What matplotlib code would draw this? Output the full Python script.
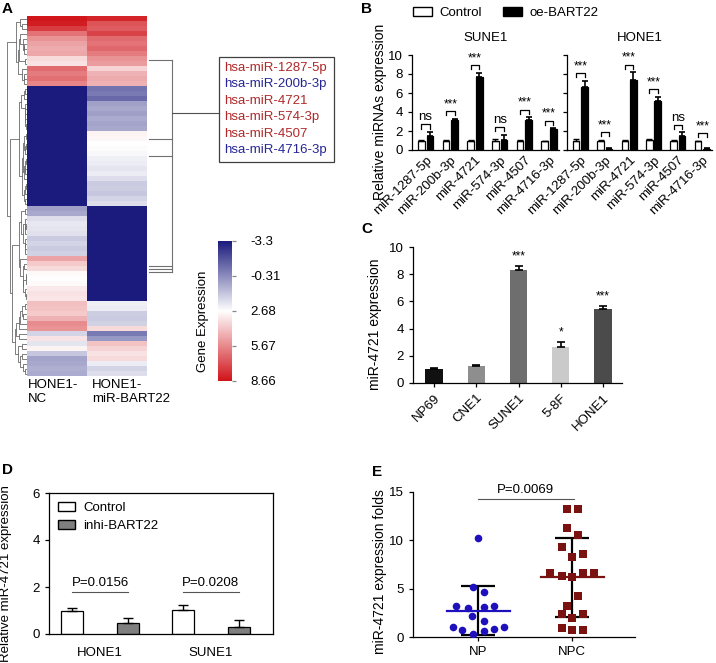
import numpy as np
import matplotlib.pyplot as plt
from matplotlib.colors import LinearSegmentedColormap
from matplotlib.patches import Patch

plt.rcParams['font.family'] = ['Liberation Sans', 'DejaVu Sans']
plt.rcParams['font.size'] = 9.5
plt.rcParams['axes.linewidth'] = 0.9
plt.rcParams['xtick.major.width'] = 0.9
plt.rcParams['ytick.major.width'] = 0.9
plt.rcParams['xtick.major.size'] = 3
plt.rcParams['ytick.major.size'] = 3

W, H = 716, 663


def box(l, t, r, b):
    # pixel box -> figure fraction
    return [l / W, 1 - b / H, (r - l) / W, (b - t) / H]


# ===== A: heatmap data =====
hm_nc = [8.6, 8.4, 7.6, 6.2, 5.4, 5.0, 4.8, 4.9, 3.6, 3.4, 6.4, 6.0, 6.3, 5.8,
         -3.3, -3.3, -3.3, -3.3, -3.3, -3.3, -3.3, -3.3, -3.3, -3.3, -3.3, -3.3,
         -3.3, -3.3, -3.3, -3.3, -3.3, -3.3, -3.3, -3.3, -3.3, -3.3, -3.3, -3.3,
         0.2, 0.4, 1.8, 2.1, 2.0, 1.9, 1.3, 1.6, 1.3, 1.5, 5.0, 4.0, 3.6, 2.8,
         2.7, 2.8, 3.2, 3.4, 3.3, 4.3, 4.2, 4.0, 4.6, 5.6, 5.4, 1.6, 3.4, 2.0,
         3.0, 1.2, 0.3, 0.4, 0.6, 0.5]
hm_bart = [8.2, 7.0, 6.8, 7.4, 6.4, 6.2, 6.5, 6.0, 5.4, 5.2, 3.8, 4.6, 4.8, 4.6,
           -1.0, -0.8, -1.2, 0.2, 0.4, 0.2, 0.5, 0.3, 0.4, 3.0, 2.9, 2.7, 2.6,
           2.5, 2.3, 2.2, 2.0, 2.2, 1.8, 1.3, 1.4, 1.2, 1.6, 1.8,
           -3.3, -3.3, -3.3, -3.3, -3.3, -3.3, -3.3, -3.3, -3.3, -3.3, -3.3,
           -3.3, -3.3, -3.3, -3.3, -3.3, -3.3, -3.3, -3.3,
           2.3, 2.2, 1.4, 1.3, 1.5, 3.6, -0.8, 0.0, 4.2, 3.8, 3.4, 3.6, 2.2,
           1.6, 1.8]
hm_cols = ['HONE1-\nNC', 'HONE1-\nmiR-BART22']
mir_names = ['hsa-miR-1287-5p', 'hsa-miR-200b-3p', 'hsa-miR-4721',
             'hsa-miR-574-3p', 'hsa-miR-4507', 'hsa-miR-4716-3p']
mir_up = [True, False, True, True, True, False]
mir_rows = [8.2, 24.0, 27.4, 49.4, 50.0, 50.6]
cbar_ticks = [-3.3, -0.31, 2.68, 5.67, 8.66]

# ===== B =====
b_mirs = ['miR-1287-5p', 'miR-200b-3p', 'miR-4721', 'miR-574-3p',
          'miR-4507', 'miR-4716-3p']
sune1_ctrl = [1.0, 0.95, 1.0, 1.0, 1.0, 0.9]
sune1_ctrl_err = [0.1, 0.08, 0.05, 0.12, 0.08, 0.05]
sune1_oe = [1.5, 3.2, 7.7, 1.1, 3.2, 2.2]
sune1_oe_err = [0.4, 0.1, 0.45, 0.5, 0.25, 0.1]
sune1_sig = ['ns', '***', '***', 'ns', '***', '***']
hone1_ctrl = [1.0, 1.0, 1.0, 1.05, 1.0, 0.95]
hone1_ctrl_err = [0.12, 0.08, 0.05, 0.08, 0.08, 0.05]
hone1_oe = [6.6, 0.15, 7.4, 5.2, 1.5, 0.15]
hone1_oe_err = [0.7, 0.05, 0.8, 0.4, 0.35, 0.05]
hone1_sig = ['***', '***', '***', '***', 'ns', '***']

# ===== C =====
c_cells = ['NP69', 'CNE1', 'SUNE1', '5-8F', 'HONE1']
c_vals = [1.02, 1.28, 8.33, 2.68, 5.44]
c_err = [0.08, 0.08, 0.3, 0.35, 0.2]
c_sig = ['', '', '***', '*', '***']
c_colors = ['#111111', '#8e8e8e', '#6e6e6e', '#cacaca', '#4b4b4b']

# ===== D =====
d_cells = ['HONE1', 'SUNE1']
d_ctrl = [0.99, 1.02]
d_ctrl_err = [0.11, 0.23]
d_inhi = [0.47, 0.31]
d_inhi_err = [0.21, 0.27]
d_p = ['P=0.0156', 'P=0.0208']

# ===== E =====
np_vals = [10.25, 5.13, 4.64, 3.22, 3.01, 3.12, 3.22, 2.15, 1.63, 1.04,
           0.69, 0.35, 0.62, 0.87, 1.07]
np_jit = [0.0, -0.05, 0.06, -0.23, -0.11, 0.06, 0.17, -0.06, 0.06, -0.27,
          -0.17, -0.05, 0.06, 0.17, 0.28]
npc_vals = [13.23, 13.23, 11.29, 10.53, 9.28, 8.56, 8.24, 6.58, 6.34, 6.24,
            6.58, 6.58, 4.23, 3.22, 2.39, 2.39, 1.94, 0.97, 0.69, 0.69]
npc_jit = [-0.05, 0.06, -0.05, 0.06, -0.11, 0.12, 0.0, -0.23, -0.11, 0.0,
           0.12, 0.23, 0.06, -0.05, -0.11, 0.12, 0.0, -0.11, 0.0, 0.12]

fig = plt.figure(figsize=(W / 100, H / 100), dpi=100)


def panel_letter(x, y, s):
    fig.text(x / W, 1 - y / H, s, fontsize=11, fontweight='bold', va='top', ha='left')


# ---------------- A ----------------
cmap = LinearSegmentedColormap.from_list('ge', ['#1b1b7d', '#ffffff', '#d0141a'])
data = np.column_stack([hm_nc, hm_bart])
nrow = len(data)
axh = fig.add_axes(box(27, 16, 147, 376))
axh.imshow(data, aspect='auto', cmap=cmap, vmin=-3.3, vmax=8.66, interpolation='nearest')
axh.axis('off')
for xl, lab in zip([-0.48, 0.58], hm_cols):
    axh.text(xl, nrow + 0.2, lab, ha='left', va='top', fontsize=9.5, clip_on=False)

# row dendrogram, merges restricted to neighbouring clusters so order is kept
axd = fig.add_axes(box(7, 16, 27, 376))
clusters = [{'rows': [i], 'y': float(i), 'h': 0.0} for i in range(nrow)]
while len(clusters) > 1:
    best, bi = None, 0
    for k in range(len(clusters) - 1):
        a = data[clusters[k]['rows']]
        b = data[clusters[k + 1]['rows']]
        d = np.sqrt(((a[:, None, :] - b[None, :, :]) ** 2).sum(-1)).mean()
        if best is None or d < best:
            best, bi = d, k
    ca, cb = clusters[bi], clusters[bi + 1]
    h = max(best ** 0.6, ca['h'], cb['h'])
    axd.plot([ca['h'], h, h, cb['h']], [ca['y'], ca['y'], cb['y'], cb['y']],
             color='#6a6a6a', lw=0.6)
    clusters[bi:bi + 2] = [{'rows': ca['rows'] + cb['rows'],
                            'y': (ca['y'] + cb['y']) / 2, 'h': h}]
axd.set_ylim(nrow - 0.5, -0.5)
axd.set_xlim(clusters[0]['h'] * 1.02, 0)
axd.axis('off')

# bracket to selected miRNAs
for r in mir_rows:
    axh.plot([1.53, 1.92], [r, r], color='#707070', lw=0.8, clip_on=False)
axh.plot([1.92, 1.92], [min(mir_rows), max(mir_rows)], color='#707070', lw=0.8, clip_on=False)
axh.plot([1.92, 2.7], [18.8, 18.8], color='#505050', lw=0.8, clip_on=False)
axh.set_xlim(-0.5, 1.5)
axh.set_ylim(nrow - 0.5, -0.5)
fig.patches.append(plt.Rectangle((219 / W, 1 - 162 / H), 115 / W, 105 / H, fill=False,
                                 edgecolor='#404040', lw=0.9, transform=fig.transFigure))
for k, (name, up) in enumerate(zip(mir_names, mir_up)):
    fig.text(224 / W, 1 - (68 + 16.4 * k) / H, name, fontsize=9.5, va='center',
             color='#b02828' if up else '#262696')

# colorbar
axc = fig.add_axes(box(218, 241, 232, 381))
grad = np.linspace(-3.3, 8.66, 256)[:, None]
axc.imshow(grad, aspect='auto', cmap=cmap, vmin=-3.3, vmax=8.66,
           extent=[0, 1, 8.66, -3.3])
axc.set_xticks([])
axc.yaxis.tick_right()
axc.set_yticks(cbar_ticks)
axc.set_yticklabels(['-3.3', '-0.31', '2.68', '5.67', '8.66'], fontsize=9.5)
axc.tick_params(axis='y', length=3, color='#888888', pad=10)
for s in axc.spines.values():
    s.set_visible(False)
fig.text(203 / W, 1 - 321 / H, 'Gene Expression', rotation=90, fontsize=9.5,
         ha='center', va='center')

# ---------------- B ----------------
xb = np.arange(len(b_mirs))
off, bw = 0.175, 0.27


def bar_pair(ax, ctrl, ctrl_err, oe, oe_err, sig):
    ax.bar(xb - off, ctrl, bw, color='white', edgecolor='black', lw=0.9)
    ax.bar(xb + off, oe, bw, color='black', edgecolor='black', lw=0.9)
    ax.errorbar(xb - off, ctrl, yerr=[[0] * len(xb), ctrl_err], fmt='none',
                ecolor='black', elinewidth=1, capsize=2.2, capthick=1)
    ax.errorbar(xb + off, oe, yerr=[[0] * len(xb), oe_err], fmt='none',
                ecolor='black', elinewidth=1.2, capsize=2.2, capthick=1.2)
    for i in xb:
        top = max(ctrl[i] + ctrl_err[i], oe[i] + oe_err[i]) + 0.35
        ax.plot([i - off, i - off, i + off, i + off], [top, top + 0.45, top + 0.45, top],
                color='black', lw=0.9, clip_on=False)
        ax.text(i, top + 0.55, sig[i], ha='center', va='bottom',
                fontsize=9.5 if sig[i] == 'ns' else 8.5, clip_on=False)
    ax.set_ylim(0, 10)
    ax.set_xlim(-0.55, 5.4)
    ax.set_yticks([0, 2, 4, 6, 8, 10])
    ax.set_xticks(xb)
    ax.set_xticklabels(b_mirs, rotation=45, ha='right', rotation_mode='anchor')
    ax.spines['top'].set_visible(False)
    ax.spines['right'].set_visible(False)
    ax.tick_params(axis='x', length=0, pad=3)


ax1 = fig.add_axes(box(412, 55, 559, 150))
bar_pair(ax1, sune1_ctrl, sune1_ctrl_err, sune1_oe, sune1_oe_err, sune1_sig)
ax1.set_title('SUNE1', fontsize=9.5, pad=10)
ax1.set_ylabel('Relative miRNAs expression', fontsize=10)
ax1.yaxis.set_label_coords(-0.17, 0.4)

ax2 = fig.add_axes(box(567, 55, 712, 150))
bar_pair(ax2, hone1_ctrl, hone1_ctrl_err, hone1_oe, hone1_oe_err, hone1_sig)
ax2.set_yticklabels([])
ax2.set_title('HONE1', fontsize=9.5, pad=10)

fig.legend(handles=[Patch(facecolor='white', edgecolor='black', label='Control'),
                    Patch(facecolor='black', edgecolor='black', label='oe-BART22')],
           loc='center left', bbox_to_anchor=(408 / W, 1 - 13 / H), ncol=2,
           frameon=False, fontsize=9.5, handlelength=1.4, handleheight=0.6,
           columnspacing=1.6, handletextpad=0.6, borderaxespad=0)

# ---------------- C ----------------
ax3 = fig.add_axes(box(413, 247, 622, 383))
xc = np.arange(len(c_cells))
ax3.bar(xc, c_vals, 0.41, color=c_colors)
ax3.errorbar(xc, c_vals, yerr=[[0] * len(xc), c_err], fmt='none', ecolor='black',
             elinewidth=1.2, capsize=3, capthick=1.2)
for i in xc:
    if c_sig[i]:
        ax3.text(i, c_vals[i] + c_err[i] + 0.25, c_sig[i], ha='center', va='bottom', fontsize=8.5)
ax3.set_xlim(-0.5, 4.45)
ax3.set_ylim(0, 10)
ax3.set_yticks([0, 2, 4, 6, 8, 10])
ax3.set_xticks(xc)
ax3.set_xticklabels(c_cells, rotation=45, ha='right', rotation_mode='anchor')
ax3.spines['top'].set_visible(False)
ax3.spines['right'].set_visible(False)
ax3.set_ylabel('miR-4721 expression', fontsize=10)
ax3.yaxis.set_label_coords(-0.146, 0.43)

# ---------------- D ----------------
ax4 = fig.add_axes(box(49, 493, 273, 634))
xd = np.arange(len(d_cells))
ax4.bar(xd - 0.25, d_ctrl, 0.2, color='white', edgecolor='black', lw=0.9)
ax4.bar(xd + 0.25, d_inhi, 0.2, color='#7f7f7f', edgecolor='black', lw=0.9)
ax4.errorbar(xd - 0.25, d_ctrl, yerr=[[0, 0], d_ctrl_err], fmt='none', ecolor='black',
             elinewidth=1, capsize=3.5, capthick=1)
ax4.errorbar(xd + 0.25, d_inhi, yerr=[[0, 0], d_inhi_err], fmt='none', ecolor='black',
             elinewidth=1, capsize=3.5, capthick=1)
for i in xd:
    ax4.plot([i - 0.25, i + 0.25], [1.77, 1.77], color='#555555', lw=0.8)
    ax4.text(i, 1.9, d_p[i], ha='center', va='bottom', fontsize=9.5)
ax4.set_xlim(-0.46, 1.56)
ax4.set_ylim(0, 6)
ax4.set_yticks([0, 2, 4, 6])
ax4.set_xticks(xd)
ax4.set_xticklabels(d_cells)
ax4.tick_params(axis='x', length=0, pad=9)
ax4.set_ylabel('Relative miR-4721 expression', fontsize=9.5)
ax4.yaxis.set_label_coords(-0.165, 0.43)
ax4.legend(handles=[Patch(facecolor='white', edgecolor='black', label='Control'),
                    Patch(facecolor='#7f7f7f', edgecolor='black', label='inhi-BART22')],
           loc='upper left', frameon=False, fontsize=9.5, handlelength=1.3,
           handleheight=0.7, borderaxespad=0.3, handletextpad=0.6, labelspacing=0.4)

# ---------------- E ----------------
ax5 = fig.add_axes(box(413, 492, 635, 637))
groups = [(np_vals, np_jit, 'o', '#1f10bd'), (npc_vals, npc_jit, 's', '#7b1212')]
for g, (vals, jit, mk, col) in enumerate(groups, start=1):
    vals = np.array(vals)
    ax5.scatter(g + np.array(jit), vals, marker=mk, s=30, color=col, zorder=3, lw=0)
    m, sd = vals.mean(), vals.std(ddof=1)
    ax5.plot([g - 0.33, g + 0.34], [m, m], color=col, lw=1.6, zorder=4)
    ax5.errorbar(g, m, yerr=sd, fmt='none', ecolor='black', elinewidth=1.6,
                 capsize=12, capthick=1.6, zorder=2)
ax5.plot([1, 2.02], [14.27, 14.27], color='#555555', lw=0.8, clip_on=False)
ax5.text(1.5, 14.6, 'P=0.0069', ha='center', va='bottom', fontsize=9.5)
ax5.set_xlim(0.31, 2.67)
ax5.set_ylim(0, 15)
ax5.set_yticks([0, 5, 10, 15])
ax5.set_xticks([1, 2])
ax5.set_xticklabels(['NP', 'NPC'])
ax5.spines['top'].set_visible(False)
ax5.spines['right'].set_visible(False)
ax5.set_ylabel('miR-4721 expression folds', fontsize=10)
ax5.yaxis.set_label_coords(-0.115, 0.45)

panel_letter(2, 2, 'A')
panel_letter(361, 2, 'B')
panel_letter(361, 222, 'C')
panel_letter(2, 463, 'D')
panel_letter(372, 465, 'E')

fig.savefig('out.png', dpi=100)
